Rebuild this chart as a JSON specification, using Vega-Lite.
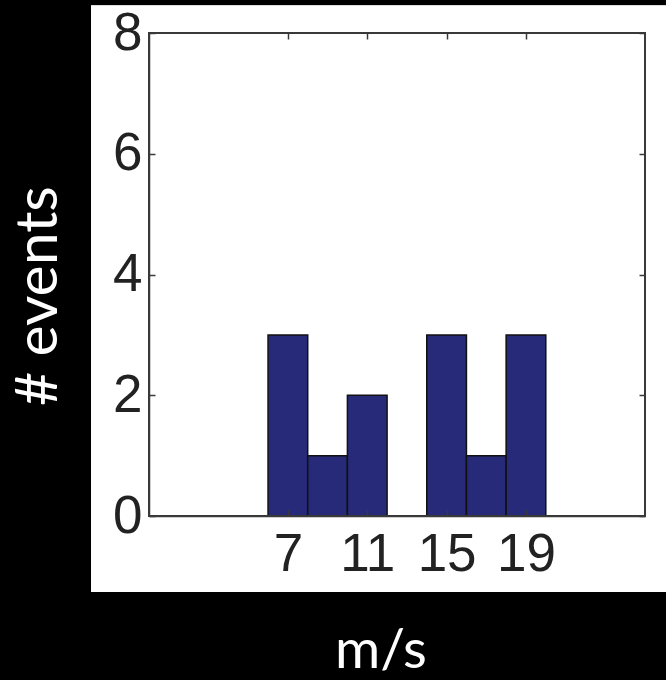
{
  "$schema": "https://vega.github.io/schema/vega-lite/v6.json",
  "width": 496,
  "height": 483,
  "autosize": {"type": "none"},
  "padding": {"left": 149, "top": 33, "right": 21, "bottom": 164},
  "background": "black",
  "config": {
    "view": {"stroke": null},
    "axis": {
      "domainColor": "#3a3a3a",
      "domainWidth": 1.5,
      "tickColor": "#3a3a3a",
      "tickWidth": 1.5,
      "tickSize": -6,
      "grid": false,
      "labelFont": "Liberation Sans",
      "labelFontSize": 53,
      "labelColor": "#222222",
      "titleFont": "Lato",
      "titleFontWeight": "normal",
      "titleColor": "white"
    }
  },
  "data": {
    "values": [
      {"start": 6, "end": 8, "count": 3},
      {"start": 8, "end": 10, "count": 1},
      {"start": 10, "end": 12, "count": 2},
      {"start": 12, "end": 14, "count": 0},
      {"start": 14, "end": 16, "count": 3},
      {"start": 16, "end": 18, "count": 1},
      {"start": 18, "end": 20, "count": 3}
    ]
  },
  "layer": [
    {
      "mark": {"type": "rect", "fill": "white", "clip": false},
      "encoding": {
        "x": {
          "datum": -2.92,
          "type": "quantitative",
          "scale": {"domain": [0, 25], "nice": false, "zero": false},
          "axis": {
            "zindex": 2,
            "orient": "bottom",
            "values": [7, 11, 15, 19],
            "title": "m/s",
            "titleFontSize": 55,
            "labelPadding": 18,
            "titleX": 231.5,
            "titleY": 151,
            "titleBaseline": "alphabetic",
            "titleAnchor": "middle",
            "titleAlign": "center"
          }
        },
        "x2": {"datum": 26.2},
        "y": {
          "datum": -1.26,
          "type": "quantitative",
          "scale": {"domain": [0, 8], "nice": false, "zero": false},
          "axis": {
            "zindex": 2,
            "orient": "left",
            "values": [0, 2, 4, 6, 8],
            "title": "# events",
            "titleFontSize": 59,
            "labelPadding": 13,
            "titleX": -93,
            "titleY": 262.5,
            "titleAngle": -90,
            "titleBaseline": "alphabetic",
            "titleAlign": "center",
            "titleAnchor": "middle"
          }
        },
        "y2": {"datum": 8.45}
      }
    },
    {
      "mark": {"type": "rect", "fill": "#262a78", "stroke": "#111111", "strokeWidth": 1.5},
      "encoding": {
        "x": {"field": "start", "type": "quantitative", "axis": null},
        "x2": {"field": "end"},
        "y": {"field": "count", "type": "quantitative", "axis": null}
      }
    },
    {
      "mark": {"type": "rect", "fill": null, "stroke": "#3a3a3a", "strokeWidth": 1.5, "clip": false},
      "encoding": {
        "x": {
          "datum": 0,
          "type": "quantitative",
          "axis": {"zindex": 2, "orient": "top", "values": [7, 11, 15, 19], "labels": false, "title": null, "domain": false}
        },
        "x2": {"datum": 25},
        "y": {
          "datum": 0,
          "type": "quantitative",
          "axis": {"zindex": 2, "orient": "right", "values": [0, 2, 4, 6, 8], "labels": false, "title": null, "domain": false}
        },
        "y2": {"datum": 8}
      }
    }
  ],
  "resolve": {"axis": {"x": "independent", "y": "independent"}}
}
